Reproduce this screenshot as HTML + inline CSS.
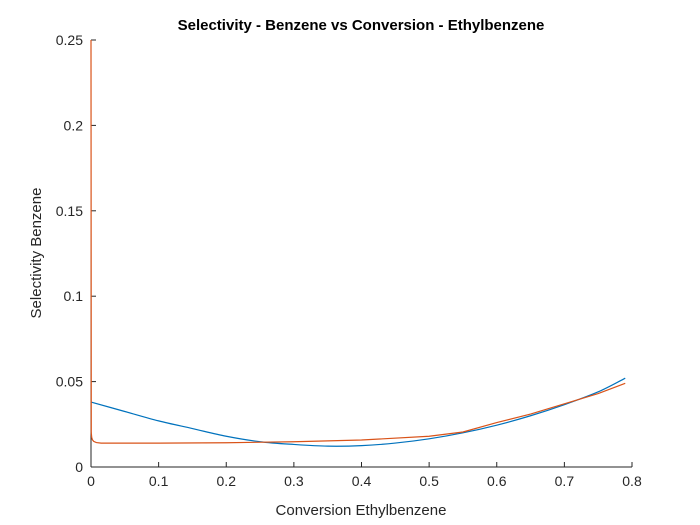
<!DOCTYPE html>
<html><head><meta charset="utf-8"><style>
body{margin:0;background:#fff;}
svg{display:block;font-family:"Liberation Sans",Arial,sans-serif;}
</style></head><body>
<svg id="chart" width="700" height="525" viewBox="0 0 700 525">
<rect width="700" height="525" fill="#fff"/>
<text x="361" y="30" text-anchor="middle" font-size="15" font-weight="bold" fill="#000">Selectivity - Benzene vs Conversion - Ethylbenzene</text>
<g id="axes"></g>
<g id="series"></g>
<text x="361" y="515" text-anchor="middle" font-size="15" fill="#262626">Conversion Ethylbenzene</text>
<text transform="translate(41,253) rotate(-90)" text-anchor="middle" font-size="15" fill="#262626">Selectivity Benzene</text>
</svg>
<script>
const xTicks=[0,0.1,0.2,0.3,0.4,0.5,0.6,0.7,0.8];
const xTickLabels=["0","0.1","0.2","0.3","0.4","0.5","0.6","0.7","0.8"];
const yTicks=[0,0.05,0.1,0.15,0.2,0.25];
const yTickLabels=["0","0.05","0.1","0.15","0.2","0.25"];
const blueX=[0,0.05,0.1,0.15,0.2,0.25,0.3,0.35,0.4,0.45,0.5,0.55,0.6,0.65,0.7,0.75,0.79];
const blueY=[0.038,0.0325,0.027,0.0225,0.018,0.0148,0.0132,0.0122,0.0125,0.014,0.0165,0.02,0.0245,0.03,0.0365,0.044,0.052];
const orangeX=[0,0.0004,0.001,0.002,0.004,0.008,0.015,0.05,0.1,0.2,0.3,0.4,0.5,0.55,0.6,0.65,0.7,0.75,0.79];
const orangeY=[0.25,0.02,0.0175,0.016,0.015,0.0143,0.014,0.014,0.014,0.0142,0.0148,0.0158,0.018,0.0205,0.026,0.031,0.037,0.043,0.049];
const X0=91,X1=632,Y0=467,Y1=40;
const sx=v=>X0+(v-0)/(0.8-0)*(X1-X0);
const sy=v=>Y0-(v-0)/(0.25-0)*(Y0-Y1);
const NS="http://www.w3.org/2000/svg";
const axes=document.getElementById('axes'),series=document.getElementById('series');
function mk(t,a,p){const e=document.createElementNS(NS,t);for(const k in a)e.setAttribute(k,a[k]);p.appendChild(e);return e;}
const xa=mk('line',{x1:X0,y1:Y0,x2:X1,y2:Y0,stroke:'#262626','stroke-width':1},axes);


const ya=mk('line',{x1:X0,y1:Y0,x2:X0,y2:Y1,stroke:'#262626','stroke-width':1},axes);


xTicks.forEach((v,i)=>{
 const t=mk('line',{x1:sx(v),y1:Y0,x2:sx(v),y2:Y0-5,stroke:'#262626'},axes);
 
 
 const l=mk('text',{x:sx(v),y:Y0+19,'text-anchor':'middle','font-size':14,fill:'#262626'},axes);
 l.textContent=xTickLabels[i];
 
 
});
yTicks.forEach((v,i)=>{
 const t=mk('line',{x1:X0,y1:sy(v),x2:X0+5,y2:sy(v),stroke:'#262626'},axes);
 
 
 const l=mk('text',{x:X0-8,y:sy(v)+5,'text-anchor':'end','font-size':14,fill:'#262626'},axes);
 l.textContent=yTickLabels[i];
 
 
});
function smoothPath(xs,ys){
 const P=xs.map((x,i)=>[sx(x),sy(ys[i])]);
 let d='M'+P[0][0].toFixed(2)+','+P[0][1].toFixed(2);
 for(let i=0;i<P.length-1;i++){
  const p0=P[Math.max(0,i-1)],p1=P[i],p2=P[i+1],p3=P[Math.min(P.length-1,i+2)];
  const c1=[p1[0]+(p2[0]-p0[0])/6,p1[1]+(p2[1]-p0[1])/6];
  const c2=[p2[0]-(p3[0]-p1[0])/6,p2[1]-(p3[1]-p1[1])/6];
  d+='C'+c1.map(v=>v.toFixed(2)).join(',')+' '+c2.map(v=>v.toFixed(2)).join(',')+' '+p2[0].toFixed(2)+','+p2[1].toFixed(2);
 }
 return d;
}
function linePath(xs,ys){return xs.map((x,i)=>(i?'L':'M')+sx(x).toFixed(2)+','+sy(ys[i]).toFixed(2)).join('');}
const pb=mk('path',{d:smoothPath(blueX,blueY),fill:'none',stroke:'#0072BD','stroke-width':1.2},series);


const po=mk('path',{d:linePath(orangeX,orangeY),fill:'none',stroke:'#D95319','stroke-width':1.2},series);


</script>
</body></html>
